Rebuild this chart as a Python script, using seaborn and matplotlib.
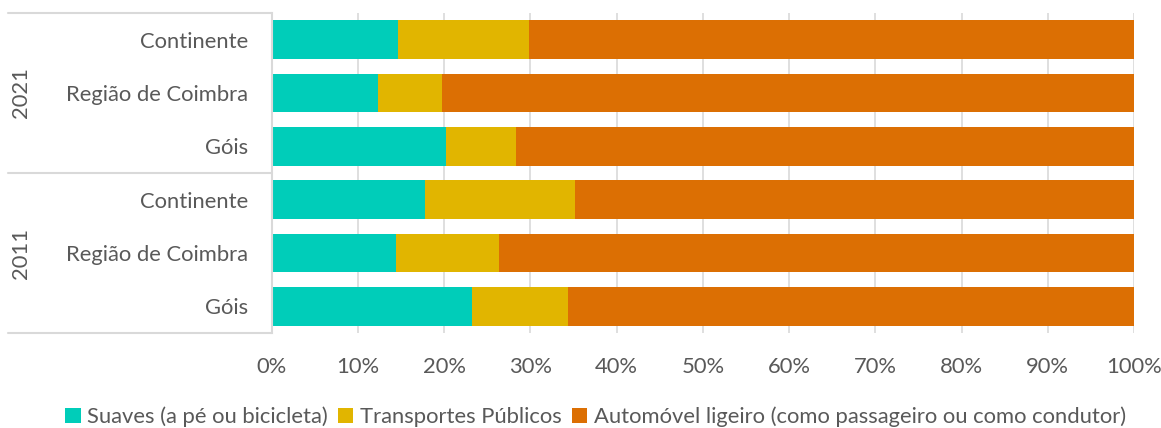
import matplotlib
matplotlib.use("Agg")
import matplotlib.pyplot as plt
from matplotlib.patches import Patch
from matplotlib.lines import Line2D
import seaborn as sns
import pandas as pd
import numpy as np

# Modal split of commuting trips (%), by territory and census year
years = ["2021", "2021", "2021", "2011", "2011", "2011"]
territories = ["Continente", "Região de Coimbra", "Góis",
               "Continente", "Região de Coimbra", "Góis"]
suaves = [14.6, 12.3, 20.2, 17.8, 14.4, 23.2]
transportes = [15.2, 7.5, 8.1, 17.4, 12.0, 11.2]
automovel = [70.2, 80.2, 71.7, 64.8, 73.6, 65.6]

series_names = ["Suaves (a pé ou bicicleta)", "Transportes Públicos",
                "Automóvel ligeiro (como passageiro ou como condutor)"]
colors = ["#00CDB9", "#E1B500", "#DC6F03"]
x_ticks = [0, 10, 20, 30, 40, 50, 60, 70, 80, 90, 100]

sns.set_theme(style="white")
plt.rcParams["font.family"] = ["Lato", "DejaVu Sans"]
text_color = "#595959"
grid_color = "#D9D9D9"
fs = 15.8

rows = [f"{y}|{t}" for y, t in zip(years, territories)]
df = pd.DataFrame({"row": rows, "s1": suaves, "s2": transportes, "s3": automovel})
df["c1"] = df["s1"]
df["c2"] = df["s1"] + df["s2"]
df["c3"] = df["s1"] + df["s2"] + df["s3"]

fig = plt.figure(figsize=(11.61, 4.28), dpi=100)
ax = fig.add_axes([271.7 / 1161, 1 - 333 / 428, (1134 - 271.7) / 1161, 320 / 428])

# Stacked bars drawn as cumulative totals, widest first
for col, color in zip(["c3", "c2", "c1"], colors[::-1]):
    sns.barplot(data=df, x=col, y="row", order=rows, color=color,
                width=0.73, orient="h", ax=ax, saturation=1, linewidth=0)

ax.set_xlim(0, 100)
ax.set_ylim(5.5, -0.5)
ax.set_xticks(x_ticks)
ax.set_xticklabels([f"{v}%" for v in x_ticks], color=text_color, fontsize=fs)
ax.set_yticks(range(len(rows)))
ax.set_yticklabels(territories, color=text_color, fontsize=fs)
ax.set_xlabel("")
ax.set_ylabel("")
ax.tick_params(axis="y", length=0, pad=17)
ax.tick_params(axis="x", length=7, width=1, color=grid_color, direction="out", pad=10)
ax.set_axisbelow(True)
ax.xaxis.grid(True, color=grid_color, linewidth=1.2)
ax.yaxis.grid(False)
for side in ["top", "right", "bottom"]:
    ax.spines[side].set_visible(False)
ax.spines["left"].set_color(grid_color)
ax.spines["left"].set_linewidth(1.5)

# Year group labels and separators in the category area
x0 = (8 - 271.7) / (1134 - 271.7)
for yv in [-0.5, 2.5, 5.5]:
    ax.add_line(Line2D([x0, 0], [yv, yv], transform=ax.get_yaxis_transform(),
                       color=grid_color, linewidth=1.5, clip_on=False))
xy = (21 - 271.7) / (1134 - 271.7)
for label, center in [("2021", 1.0), ("2011", 4.0)]:
    ax.text(xy, center, label, transform=ax.get_yaxis_transform(), rotation=90,
            ha="center", va="center", color=text_color, fontsize=fs)

handles = [Patch(facecolor=c, edgecolor="none") for c in colors]
fig.legend(handles, series_names, loc="center", bbox_to_anchor=(0.513, 0.026),
           ncol=3, frameon=False, fontsize=fs, labelcolor=text_color,
           handlelength=0.7, handleheight=0.7, handletextpad=0.3, columnspacing=0.45)

fig.savefig("out.png", dpi=100)
